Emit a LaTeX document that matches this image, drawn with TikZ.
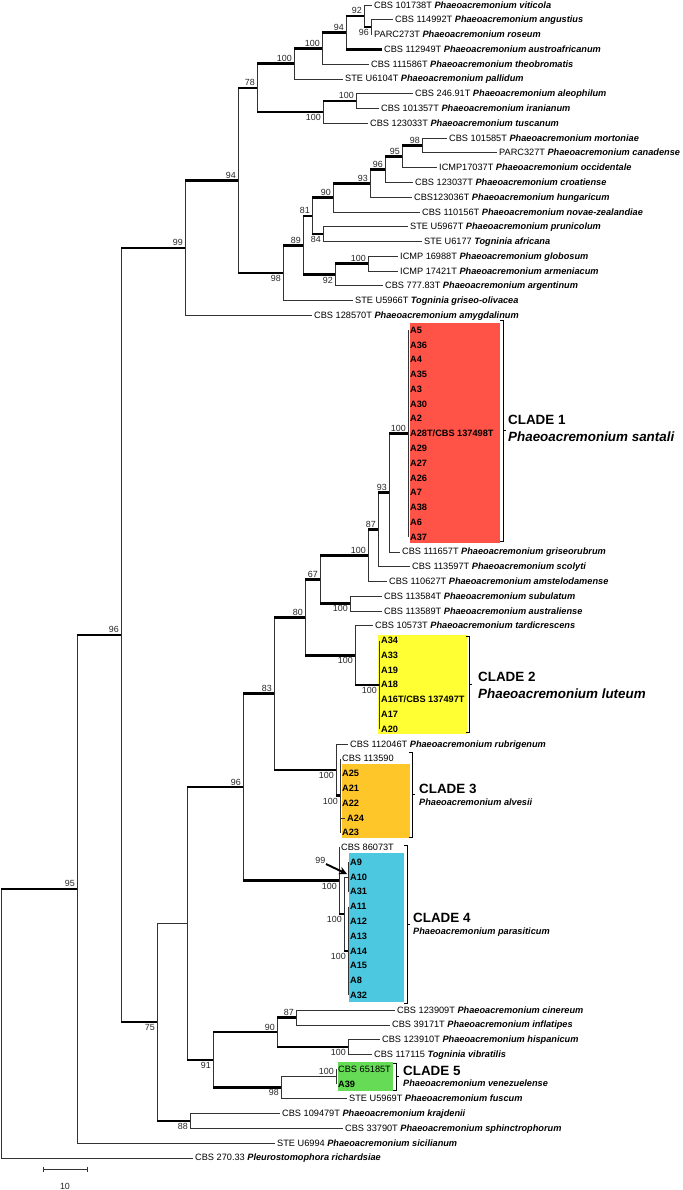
\documentclass[tikz,border=0pt]{standalone}
\usepackage{fontspec}
\setmainfont{Liberation Sans}
\usetikzlibrary{calc,positioning,arrows.meta}

\definecolor{cladered}{HTML}{FF5347}
\definecolor{cladeyellow}{HTML}{FFFF33}
\definecolor{cladeorange}{HTML}{FFC62A}
\definecolor{cladecyan}{HTML}{4CC8E0}
\definecolor{cladegreen}{HTML}{66DB55}

\newcommand\phaeo[1]{\textbf{\textit{Phaeoacremonium #1}}}
\newcommand\tog[1]{\textbf{\textit{Togninia #1}}}
\newcommand\rowgap{14.78}
% leaf: [style]{name}{row}{tip x}{text}
\newcommand\leaf[5][leaf]{\node[#1] (#2) at (#4,{5+(#3-1)*\rowgap}) {#5};}
% inner node: {name}{x}{first child}{last child}
\newcommand\tnode[4]{%
  \coordinate (#1m) at ($(#3)!0.5!(#4)$);
  \coordinate (#1x) at (#2,0);
  \coordinate (#1) at (#1x |- #1m);}
% clade bracket: {x}{top}{bottom}
\newcommand\cladebracket[3]{%
  \draw[bracketline] (#1-3,#2) -- (#1,#2) -- (#1,#3) -- (#1-3,#3)
    (#1,{(#2+#3)/2}) -- (#1+3,{(#2+#3)/2});}

\tikzset{
  leaf/.style={anchor=west, inner xsep=2pt, inner ysep=0pt, text height=6.7pt,
    text depth=0.5pt, font=\fontsize{9.2}{11}\selectfont},
  sleaf/.style={leaf, font=\fontsize{9.2}{11}\selectfont\bfseries},
  thinbr/.style={line width=0.65pt, black!80},
  thickbr/.style={line width=2.5pt, black},
  bracketline/.style={line width=0.9pt, black},
  bsval/.style={inner sep=0.5pt, font=\fontsize{8.9}{10}\selectfont, text=black!85},
  cladehead/.style={anchor=west, inner sep=0pt, font=\fontsize{13.4}{15}\selectfont\bfseries},
  cladebig/.style={inner sep=0pt, font=\fontsize{13.4}{15}\selectfont\bfseries\itshape},
  cladesmall/.style={inner sep=0pt, font=\fontsize{9.2}{11}\selectfont\bfseries\itshape},
}

\begin{document}
\begin{tikzpicture}[x=1pt, y=-1pt]
\useasboundingbox (0,0) rectangle (682,1190);

% clade boxes
\fill[cladered] (410,323) rectangle (500,543);
\fill[cladeyellow] (378,635) rectangle (467,734);
\fill[cladeorange] (342,764) rectangle (410,838);
\fill[cladecyan] (349,853) rectangle (404,1002);
\fill[cladegreen] (338,1062) rectangle (393,1091);

% leaves
\leaf{r1}{1}{372}{CBS 101738T \phaeo{viticola}}
\leaf{r2}{2}{393}{CBS 114992T \phaeo{angustius}}
\leaf{r3}{3}{372}{PARC273T \phaeo{roseum}}
\leaf{r4}{4}{382}{CBS 112949T \phaeo{austroafricanum}}
\leaf{r5}{5}{369}{CBS 111586T \phaeo{theobromatis}}
\leaf{r6}{6}{343}{STE U6104T \phaeo{pallidum}}
\leaf{r7}{7}{413}{CBS 246.91T \phaeo{aleophilum}}
\leaf{r8}{8}{379}{CBS 101357T \phaeo{iranianum}}
\leaf{r9}{9}{368}{CBS 123033T \phaeo{tuscanum}}
\leaf{r10}{10}{447}{CBS 101585T \phaeo{mortoniae}}
\leaf{r11}{11}{497}{PARC327T \phaeo{canadense}}
\leaf{r12}{12}{437}{ICMP17037T \phaeo{occidentale}}
\leaf{r13}{13}{413}{CBS 123037T \phaeo{croatiense}}
\leaf{r14}{14}{412}{CBS123036T \phaeo{hungaricum}}
\leaf{r15}{15}{420}{CBS 110156T \phaeo{novae-zealandiae}}
\leaf{r16}{16}{408}{STE U5967T \phaeo{prunicolum}}
\leaf{r17}{17}{422}{STE U6177 \tog{africana}}
\leaf{r18}{18}{398}{ICMP 16988T \phaeo{globosum}}
\leaf{r19}{19}{398}{ICMP 17421T \phaeo{armeniacum}}
\leaf{r20}{20}{383}{CBS 777.83T \phaeo{argentinum}}
\leaf{r21}{21}{353}{STE U5966T \tog{griseo-olivacea}}
\leaf{r22}{22}{312}{CBS 128570T \phaeo{amygdalinum}}
\foreach \lbl [count=\i from 23] in {A5,A36,A4,A35,A3,A30,A2,{A28T/CBS 137498T},A29,A27,A26,A7,A38,A6,A37}
  \leaf[sleaf]{r\i}{\i}{408}{\lbl};
\leaf{r38}{38}{400}{CBS 111657T \phaeo{griseorubrum}}
\leaf{r39}{39}{410}{CBS 113597T \phaeo{scolyti}}
\leaf{r40}{40}{387}{CBS 110627T \phaeo{amstelodamense}}
\leaf{r41}{41}{382}{CBS 113584T \phaeo{subulatum}}
\leaf{r42}{42}{382}{CBS 113589T \phaeo{australiense}}
\leaf{r43}{43}{373}{CBS 10573T \phaeo{tardicrescens}}
\foreach \lbl [count=\i from 44] in {A34,A33,A19,A18,{A16T/CBS 137497T},A17,A20}
  \leaf[sleaf]{r\i}{\i}{379}{\lbl};
\leaf{r51}{51}{348}{CBS 112046T \phaeo{rubrigenum}}
\leaf{r52}{52}{340}{CBS 113590}
\leaf[sleaf]{r53}{53}{340}{A25}
\leaf[sleaf]{r54}{54}{340}{A21}
\leaf[sleaf]{r55}{55}{340}{A22}
\leaf[sleaf]{r56}{56}{345}{A24}
\leaf[sleaf]{r57}{57}{340}{A23}
\leaf{r58}{58}{339}{CBS 86073T}
\foreach \lbl [count=\i from 59] in {A9,A10,A31,A11,A12,A13,A14,A15,A8,A32}
  \leaf[sleaf]{r\i}{\i}{348}{\lbl};
\leaf{r69}{69}{395}{CBS 123909T \phaeo{cinereum}}
\leaf{r70}{70}{390}{CBS 39171T \phaeo{inflatipes}}
\leaf{r71}{71}{380}{CBS 123910T \phaeo{hispanicum}}
\leaf{r72}{72}{372}{CBS 117115 \tog{vibratilis}}
\leaf{r73}{73}{336}{CBS 65185T}
\leaf[sleaf]{r74}{74}{336}{A39}
\leaf{r75}{75}{347}{STE U5969T \phaeo{fuscum}}
\leaf{r76}{76}{280}{CBS 109479T \phaeo{krajdenii}}
\leaf{r77}{77}{343}{CBS 33790T \phaeo{sphinctrophorum}}
\leaf{r78}{78}{275}{STE U6994 \phaeo{sicilianum}}
\leaf{r79}{79}{193}{CBS 270.33 \textbf{\textit{Pleurostomophora richardsiae}}}

% inner nodes, bottom up
\tnode{n96a}{371}{r2}{r3}
\tnode{n92}{364}{r1}{n96a}
\tnode{n94a}{346}{n92}{r4}
\tnode{n100a}{322}{n94a}{r5}
\tnode{n100b}{294}{n100a}{r6}
\tnode{n100d}{356}{r7}{r8}
\tnode{n100c}{323}{n100d}{r9}
\tnode{n78}{257}{n100b}{n100c}
\tnode{n98b}{422}{r10}{r11}
\tnode{n95a}{402}{n98b}{r12}
\tnode{n96b}{385}{n95a}{r13}
\tnode{n93a}{370}{n96b}{r14}
\tnode{n90a}{333}{n93a}{r15}
\tnode{n84}{323}{r16}{r17}
\tnode{n81}{312}{n90a}{n84}
\tnode{n100e}{368}{r18}{r19}
\tnode{n92b}{335}{n100e}{r20}
\tnode{n89}{303}{n81}{n92b}
\tnode{n98a}{283}{n89}{r21}
\tnode{n94b}{238}{n78}{n98a}
\tnode{n99a}{185}{n94b}{r22}
\tnode{cl1}{408}{r23}{r37}
\tnode{n93b}{389}{cl1}{r38}
\tnode{n87a}{378}{n93b}{r39}
\tnode{n100f}{368}{n87a}{r40}
\tnode{n100g}{350}{r41}{r42}
\tnode{n67}{320}{n100f}{n100g}
\tnode{cl2}{379}{r44}{r50}
\tnode{n100h}{355}{r43}{cl2}
\tnode{n80}{305}{n67}{n100h}
\tnode{cl3}{340}{r52}{r57}
\tnode{n100i}{336}{r51}{cl3}
\tnode{n83}{274}{n80}{n100i}
\tnode{n99c}{348}{r59}{r61}
\tnode{n100l}{348}{r62}{r68}
\tnode{n100k}{344}{n99c}{n100l}
\tnode{n100j}{339}{r58}{n100k}
\tnode{n96c}{243}{n83}{n100j}
\tnode{n87b}{296}{r69}{r70}
\tnode{n100m}{348}{r71}{r72}
\tnode{n90b}{277}{n87b}{n100m}
\tnode{cl5}{336}{r73}{r74}
\tnode{n98c}{281}{cl5}{r75}
\tnode{n91}{213}{n90b}{n98c}
\tnode{nY}{187}{n96c}{n91}
\tnode{n88}{190}{r76}{r77}
\tnode{n75}{157}{nY}{n88}
\tnode{n96r}{121}{n99a}{n75}
\tnode{n95r}{77}{n96r}{r78}
\tnode{root}{1}{n95r}{r79}

% verticals
\foreach \pa/\ca/\cb in {n96a/r2/r3, n92/r1/n96a, n94a/n92/r4, n100a/n94a/r5,
    n100b/n100a/r6, n100d/r7/r8, n100c/n100d/r9, n78/n100b/n100c, n98b/r10/r11,
    n95a/n98b/r12, n96b/n95a/r13, n93a/n96b/r14, n90a/n93a/r15, n84/r16/r17,
    n81/n90a/n84, n100e/r18/r19, n92b/n100e/r20, n89/n81/n92b, n98a/n89/r21,
    n94b/n78/n98a, n99a/n94b/r22, cl1/r23/r37, n93b/cl1/r38, n87a/n93b/r39,
    n100f/n87a/r40, n100g/r41/r42, n67/n100f/n100g, cl2/r44/r50, n100h/r43/cl2,
    n80/n67/n100h, cl3/r52/r57, n100i/r51/cl3, n83/n80/n100i, n99c/r59/r61,
    n100l/r62/r68, n100k/n99c/n100l, n100j/r58/n100k, n96c/n83/n100j,
    n87b/r69/r70, n100m/r71/r72, n90b/n87b/n100m, cl5/r73/r74, n98c/cl5/r75,
    n91/n90b/n98c, nY/n96c/n91, n88/r76/r77, n75/nY/n88, n96r/n99a/n75,
    n95r/n96r/r78, root/n95r/r79}
  \draw[thinbr] (\pa |- \ca) -- (\pa |- \cb);

% thin branches
\foreach \pa/\ca in {n96a/r2, n96a/r3, n92/r1, n100a/r5, n100b/r6, n100d/r7, n100d/r8,
    n100c/r9, n98b/r10, n98b/r11, n95a/r12, n96b/r13, n93a/r14, n90a/r15, n84/r16,
    n84/r17, n100e/r18, n100e/r19, n92b/r20, n98a/r21, n99a/r22, n93b/r38, n87a/r39,
    n100f/r40, n100g/r41, n100g/r42, n100h/r43, n100i/r51, cl3/r56, n100k/n99c,
    n100j/r58, n87b/r69, n87b/r70, n100m/r71, n100m/r72, n98c/cl5, n98c/r75,
    n75/nY, n88/r76, n88/r77, n95r/r78, root/r79}
  \draw[thinbr] (\pa |- \ca) -- (\ca);

% supported branches
\foreach \pa/\ca in {n92/n96a, n94a/n92, n94a/r4, n100a/n94a, n100b/n100a, n78/n100b,
    n78/n100c, n100c/n100d, n95a/n98b, n96b/n95a, n93a/n96b, n90a/n93a, n81/n90a,
    n81/n84, n92b/n100e, n89/n81, n89/n92b, n98a/n89, n94b/n78, n94b/n98a, n99a/n94b,
    n93b/cl1, n87a/n93b, n100f/n87a, n67/n100f, n67/n100g, n100h/cl2, n80/n67,
    n80/n100h, n100i/cl3, n83/n80, n83/n100i, n100k/n100l, n100j/n100k, n96c/n83,
    n96c/n100j, n90b/n87b, n90b/n100m, n91/n90b, n91/n98c, nY/n96c, nY/n91,
    n75/n88, n96r/n99a, n96r/n75, n95r/n96r, root/n95r}
  \draw[thickbr] (\pa |- \ca) -- (\ca);

% bootstrap values
\foreach \nd/\val in {n92/92, n94a/94, n100a/100, n100b/100, n78/78, n100d/100,
    n98b/98, n95a/95, n96b/96, n93a/93, n90a/90, n81/81, n100e/100, n89/89,
    n94b/94, n99a/99, cl1/100, n93b/93, n87a/87, n100f/100, n67/67, n80/80,
    n83/83, n96c/96, n87b/87, n90b/90, cl5/100, n96r/96, n95r/95}
  \node[bsval, anchor=south east] (b\nd) at ([shift={(-1.5,-1.4)}]\nd) {\val};
\foreach \nd/\val in {n96a/96, n100c/100, n84/84, n92b/92, n98a/98, n100g/100,
    n100h/100, cl2/100, n100i/100, cl3/100, n100j/100, n100k/100, n100l/100,
    n100m/100, n98c/98, n91/91, n88/88, n75/75}
  \node[bsval, anchor=north east] (b\nd) at ([shift={(-1.5,1.4)}]\nd) {\val};
\node[bsval, anchor=south east] (bn99c) at (326,864) {99};
\draw[line width=1.9pt, -{Stealth[length=8pt, width=8pt]}] (bn99c.south east) -- ([shift={(-1,-3)}]n99c);

% clade brackets and names
\cladebracket{503}{320}{541}
\cladebracket{469}{636}{732}
\cladebracket{412}{752}{837}
\cladebracket{407}{845}{1003}
\cladebracket{396}{1063}{1090}
\node[cladehead] (c1a) at (508,420) {CLADE 1};
\node[cladebig, below=7pt of c1a.south west, anchor=north west] (c1b) {Phaeoacremonium santali};
\node[cladehead] (c2a) at (478,677) {CLADE 2};
\node[cladebig, below=7pt of c2a.south west, anchor=north west] (c2b) {Phaeoacremonium luteum};
\node[cladehead] (c3a) at (419,789) {CLADE 3};
\node[cladesmall, below=5pt of c3a.south west, anchor=north west] (c3b) {Phaeoacremonium alvesii};
\node[cladehead] (c4a) at (413,918) {CLADE 4};
\node[cladesmall, below=5pt of c4a.south west, anchor=north west] (c4b) {Phaeoacremonium parasiticum};
\node[cladehead] (c5a) at (403,1071) {CLADE 5};
\node[cladesmall, below=4pt of c5a.south west, anchor=north west] (c5b) {Phaeoacremonium venezuelense};

% scale bar
\coordinate (sbl) at (43,1169);
\coordinate (sbr) at (87,1169);
\draw[thinbr] (sbl) -- (sbr) ([yshift=2.5pt]sbl) -- ([yshift=-2.5pt]sbl)
  ([yshift=2.5pt]sbr) -- ([yshift=-2.5pt]sbr);
\node[bsval] (sbtext) at (65,1186) {10};
\end{tikzpicture}
\end{document}
